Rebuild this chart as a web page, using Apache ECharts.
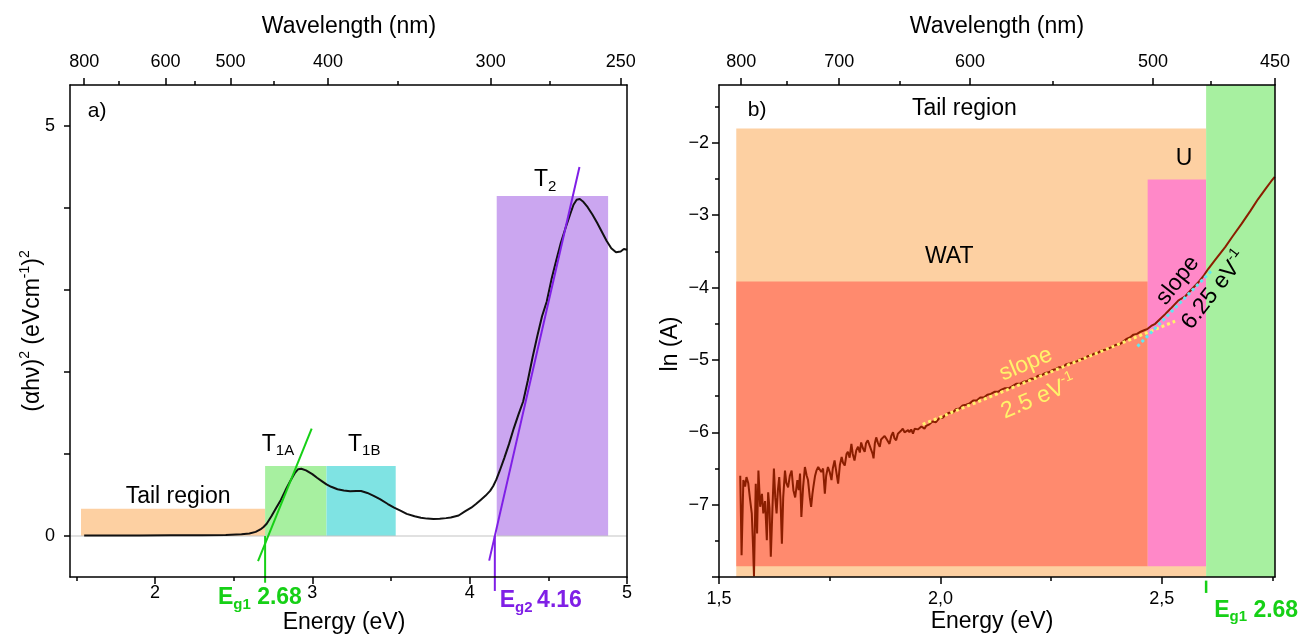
<!DOCTYPE html>
<html><head><meta charset="utf-8">
<script src="https://cdn.jsdelivr.net/npm/echarts@6/dist/echarts.min.js"></script>
<style>html,body{margin:0;padding:0;background:#fff}#c{width:1300px;height:635px}</style>
</head><body><div id="c"></div>
<script>
const FONT = '"Liberation Sans", Arial, Helvetica, sans-serif';
const HC = 1240; // eV·nm

// ---------------- panel a) data ----------------
const aEnergy = [1.55,1.7,1.9,2.1,2.3,2.45,2.55,2.6,2.64,2.67,
  2.69,2.71,2.74,2.77,2.8,2.83,2.86,2.89,2.91,2.93,
  2.96,3.0,3.03,3.06,3.09,3.12,3.16,3.2,3.24,3.28,
  3.31,3.35,3.39,3.43,3.48,3.52,3.56,3.6,3.65,3.69,
  3.73,3.77,3.81,3.85,3.88,3.93,3.97,4.01,4.04,4.07,
  4.1,4.13,4.15,4.17,4.19,4.22,4.25,4.28,4.31,4.34,
  4.37,4.4,4.43,4.46,4.49,4.52,4.55,4.58,4.61,4.64,
  4.66,4.68,4.7,4.72,4.75,4.78,4.81,4.84,4.87,4.9,
  4.93,4.96,4.98,5.0];
const aAbs = [0.005,0.005,0.005,0.008,0.01,0.012,0.02,0.03,0.05,0.08,
  0.11,0.15,0.24,0.34,0.44,0.56,0.67,0.77,0.815,0.82,
  0.80,0.755,0.71,0.67,0.63,0.60,0.57,0.555,0.545,0.55,
  0.548,0.525,0.49,0.45,0.39,0.345,0.31,0.27,0.24,0.223,
  0.212,0.207,0.21,0.218,0.225,0.25,0.30,0.345,0.39,0.44,
  0.49,0.55,0.61,0.69,0.79,0.95,1.12,1.31,1.48,1.64,
  1.90,2.18,2.44,2.68,2.86,3.13,3.36,3.58,3.76,3.93,
  4.04,4.10,4.11,4.08,4.01,3.92,3.82,3.71,3.60,3.51,
  3.46,3.47,3.50,3.49];
// regions: Tail, T1A, T1B, T2
const aRegionX0 = [1.53, 2.70, 3.09, 4.172];
const aRegionX1 = [2.70, 3.09, 3.53, 4.88];
const aRegionY0 = [0, 0, 0, 0];
const aRegionY1 = [0.333, 0.854, 0.854, 4.146];
const aTangentEg1 = [[2.655, -0.305], [2.996, 1.309]];
const aTangentEg2 = [[4.124, -0.30], [4.698, 4.50]];
const aEg1 = 2.70, aEg1Low = -0.57;
const aEg2 = 4.16, aEg2Low = -0.67;
const aXRange = [1.46, 5];
const aYRange = [-0.5, 5.5];
const aBottomMajor = [2, 3, 4, 5];
const aBottomMinor = [1.5, 2.5, 3.5, 4.5];
const aLeftTicks = [0, 1, 2, 3, 4, 5];
const aLeftLabels = [0, 5];
const aTopMajorNm = [800, 600, 500, 400, 300, 250];
const aTopMinorNm = [700, 550, 450, 350, 275];

// ---------------- panel b) data ----------------
const bEnergy = [1.548,1.551,1.555,1.559,1.562,1.566,1.570,1.574,1.577,1.579,
  1.581,1.583,1.586,1.589,1.593,1.597,1.600,1.604,1.608,1.611,
  1.614,1.617,1.621,1.624,1.627,1.630,1.633,1.636,1.639,1.642,
  1.645,1.649,1.652,1.656,1.660,1.664,1.668,1.672,1.677,1.680,
  1.683,1.686,1.690,1.694,1.698,1.701,1.705,1.708,1.711,1.713,
  1.717,1.720,1.724,1.728,1.731,1.735,1.739,1.742,1.746,1.750,
  1.754,1.757,1.761,1.765,1.769,1.773,1.777,1.780,1.784,1.788,
  1.791,1.795,1.799,1.802,1.806,1.810,1.814,1.818,1.821,1.825,
  1.829,1.832,1.836,1.840,1.844,1.847,1.849,1.852,1.855,1.859,
  1.863,1.866,1.870,1.874,1.878,1.881,1.885,1.889,1.893,1.896,
  1.900,1.904,1.908,1.911,1.915,1.919,1.923,1.927,1.930,1.934,
  1.938,1.942,1.945,1.949,1.953,1.957,1.960,1.964,1.968,1.975,
  1.982,1.990,1.998,2.005,2.013,2.020,2.028,2.035,2.043,2.050,
  2.058,2.066,2.074,2.082,2.090,2.098,2.106,2.114,2.122,2.130,
  2.138,2.146,2.155,2.163,2.171,2.180,2.188,2.196,2.204,2.212,
  2.220,2.229,2.237,2.245,2.253,2.260,2.268,2.276,2.284,2.292,
  2.300,2.308,2.316,2.324,2.332,2.340,2.348,2.356,2.364,2.372,
  2.380,2.388,2.396,2.404,2.412,2.420,2.428,2.436,2.444,2.452,
  2.460,2.468,2.476,2.485,2.495,2.507,2.520,2.537,2.553,2.568,
  2.582,2.595,2.605,2.620,2.643,2.660,2.680,2.700,2.717,2.735,
  2.747,2.755];
const bLnA = [-6.60,-7.70,-6.66,-6.75,-6.62,-6.70,-6.92,-7.12,-7.60,-7.99,
  -7.30,-6.71,-7.40,-6.53,-7.03,-6.85,-7.12,-6.95,-7.49,-6.83,
  -7.05,-7.72,-7.00,-6.50,-6.90,-7.12,-6.80,-6.62,-6.95,-7.54,
  -6.90,-6.53,-6.70,-6.76,-6.60,-6.53,-6.80,-6.90,-6.66,-6.80,
  -6.57,-7.17,-6.75,-6.48,-6.60,-6.66,-6.90,-7.03,-6.85,-6.76,
  -6.60,-6.53,-6.48,-6.46,-6.55,-6.50,-6.85,-6.60,-6.48,-6.55,
  -6.66,-6.50,-6.39,-6.55,-6.71,-6.45,-6.34,-6.42,-6.46,-6.30,
  -6.27,-6.35,-6.16,-6.30,-6.39,-6.25,-6.20,-6.28,-6.14,-6.22,
  -6.27,-6.15,-6.11,-6.18,-6.20,-6.30,-6.36,-6.15,-6.07,-6.15,
  -6.20,-6.10,-6.11,-6.05,-6.09,-6.12,-6.16,-6.05,-6.00,-6.08,
  -6.11,-6.02,-6.04,-5.98,-5.95,-6.00,-6.02,-5.97,-6.00,-5.96,
  -6.02,-5.95,-5.93,-5.96,-5.97,-5.92,-5.93,-5.95,-5.91,-5.89,
  -5.85,-5.86,-5.80,-5.80,-5.75,-5.73,-5.73,-5.68,-5.67,-5.63,
  -5.62,-5.60,-5.56,-5.56,-5.52,-5.52,-5.48,-5.47,-5.44,-5.44,
  -5.41,-5.39,-5.39,-5.36,-5.33,-5.33,-5.30,-5.29,-5.26,-5.26,
  -5.22,-5.21,-5.18,-5.17,-5.14,-5.13,-5.10,-5.10,-5.06,-5.05,
  -5.03,-5.02,-4.99,-4.98,-4.95,-4.94,-4.91,-4.90,-4.87,-4.86,
  -4.84,-4.82,-4.79,-4.79,-4.75,-4.71,-4.69,-4.65,-4.64,-4.61,
  -4.59,-4.57,-4.53,-4.50,-4.44,-4.37,-4.29,-4.18,-4.12,-4.02,
  -3.93,-3.83,-3.74,-3.62,-3.44,-3.29,-3.12,-2.94,-2.78,-2.63,
  -2.53,-2.47];
// regions: Tail, WAT, U, Eg
const bRegionX0 = [1.539, 1.539, 2.468, 2.600];
const bRegionX1 = [2.600, 2.468, 2.600, 1240 / 450];
const bRegionY0 = [-8, -7.852, -7.852, -8];
const bRegionY1 = [-1.8, -3.916, -2.507, -1.2];
const bFitWAT = [[1.96, -5.89], [2.53, -4.465]];   // slope 2.5 eV^-1
const bFitU = [[2.445, -4.812], [2.612, -3.768]];  // slope 6.25 eV^-1
const bEg1 = 2.600;
const bXRange = [1.5, 1240 / 450];
const bYRange = [-8, -1.2];
const bBottomMajor = [1.5, 2.0, 2.5];
const bBottomMinor = [1.75, 2.25, 2.75];
const bLeftMajor = [-8, -7, -6, -5, -4, -3, -2];
const bLeftLabels = [-7, -6, -5, -4, -3, -2];
const bLeftMinor = [-7.5, -6.5, -5.5, -4.5, -3.5, -2.5, -1.5];
const bTopMajorNm = [800, 700, 600, 500, 450];
const bTopMinorNm = [750, 650, 550, 475];

// ---------------- styles ----------------
const aRegionColors = ['#fdd0a2', '#a7f0a0', '#7fe3e3', '#cba6f0'];
const bRegionColors = ['#fdd0a2', '#ff8a6e', '#ff88c8', '#a7f0a0'];
const GREEN = '#16d016', PURPLE = '#7f1fe6';
const YELLOW = '#fff36a', CYAN = '#5ee8f2';
const TS = 23; // text size

const chart = echarts.init(document.getElementById('c'), null, {renderer: 'canvas'});

const fmtPlain = v => String(v);
const fmtComma = v => v.toFixed(1).replace('.', ',');
const fmtMinus = v => String(v).replace('-', '\u2212');
const fmtNm = v => String(Math.round(HC / v));
const toE = arr => arr.map(n => HC / n);

function ax(gridIndex, position, range, ticks, labels, len, fmt, margin, line) {
  return {
    type: 'value', gridIndex, position, min: range[0], max: range[1], z: 10,
    axisLine: {show: !!line, onZero: false, lineStyle: {color: '#000', width: 1.5}},
    axisTick: {show: ticks.length > 0, customValues: ticks, length: len, inside: false,
      lineStyle: {color: '#000', width: 1.5}},
    axisLabel: {show: labels.length > 0, customValues: labels, formatter: fmt, margin,
      fontSize: 18, color: '#000', fontFamily: FONT},
    splitLine: {show: false}, minorTick: {show: false}
  };
}

function rectSeries(xi, yi, x0, x1, y0, y1, colors) {
  return {
    type: 'custom', xAxisIndex: xi, yAxisIndex: yi, z: 1, silent: true,
    encode: {x: [0, 1], y: [2, 3]},
    data: x0.map((v, i) => [v, x1[i], y0[i], y1[i]]),
    renderItem: (params, api) => {
      const p0 = api.coord([api.value(0), api.value(3)]);
      const p1 = api.coord([api.value(1), api.value(2)]);
      return {type: 'rect', shape: {x: p0[0], y: p0[1], width: p1[0] - p0[0], height: p1[1] - p0[1]},
        style: {fill: colors[params.dataIndex]}};
    }
  };
}
function lineSeries(xi, yi, data, color, width, z, extra) {
  return Object.assign({type: 'line', xAxisIndex: xi, yAxisIndex: yi, data, showSymbol: false, symbol: 'none',
    silent: true, z, lineStyle: {color, width}}, extra || {});
}

const series = [
  rectSeries(0, 0, aRegionX0, aRegionX1, aRegionY0, aRegionY1, aRegionColors),               // 0
  lineSeries(0, 0, [[aXRange[0], 0], [aXRange[1], 0]], '#c4c4c4', 1.2, 2),                  // 1
  lineSeries(0, 0, aEnergy.map((e, i) => [e, aAbs[i]]), '#111', 2, 3),                       // 2
  lineSeries(0, 0, aTangentEg1, GREEN, 2, 4),                                                // 3
  lineSeries(0, 0, aTangentEg2, PURPLE, 2, 4),                                               // 4
  lineSeries(0, 0, [[aEg1, 0], [aEg1, aEg1Low]], GREEN, 2, 4, {clip: false}),                // 5
  lineSeries(0, 0, [[aEg2, 0], [aEg2, aEg2Low]], PURPLE, 2, 4, {clip: false}),               // 6
  rectSeries(4, 2, bRegionX0, bRegionX1, bRegionY0, bRegionY1, bRegionColors),               // 7
  lineSeries(4, 2, bEnergy.map((e, i) => [e, bLnA[i]]), '#8b1e00', 2, 3),                    // 8
  lineSeries(4, 2, bFitWAT, YELLOW, 3, 4, {lineStyle: {color: YELLOW, width: 3, type: [3, 3]}}), // 9
  lineSeries(4, 2, bFitU, CYAN, 3, 4, {lineStyle: {color: CYAN, width: 3, type: [3, 3]}}),       // 10
  lineSeries(4, 2, [[bEg1, -8.05], [bEg1, -8.22]], GREEN, 2.5, 4, {clip: false})            // 11
];

const option = {
  animation: false,
  backgroundColor: '#fff',
  textStyle: {fontFamily: FONT},
  grid: [
    {left: 70, right: 673, top: 85, bottom: 58, containLabel: false},
    {left: 719, right: 25, top: 85, bottom: 58, containLabel: false}
  ],
  xAxis: [
    ax(0, 'bottom', aXRange, aBottomMajor, aBottomMajor, 7, fmtPlain, 7, true),
    ax(0, 'bottom', aXRange, aBottomMinor, [], 4, null, 0, false),
    ax(0, 'top', aXRange, toE(aTopMajorNm), toE(aTopMajorNm), 7, fmtNm, 14, true),
    ax(0, 'top', aXRange, toE(aTopMinorNm), [], 4, null, 0, false),
    ax(1, 'bottom', bXRange, bBottomMajor, bBottomMajor, 7, fmtComma, 13, true),
    ax(1, 'bottom', bXRange, bBottomMinor, [], 4, null, 0, false),
    ax(1, 'top', bXRange, toE(bTopMajorNm), toE(bTopMajorNm), 7, fmtNm, 14, true),
    ax(1, 'top', bXRange, toE(bTopMinorNm), [], 4, null, 0, false)
  ],
  yAxis: [
    ax(0, 'left', aYRange, aLeftTicks, aLeftLabels, 6, fmtPlain, 15, true),
    ax(0, 'right', aYRange, [], [], 0, null, 0, true),
    ax(1, 'left', bYRange, bLeftMajor, bLeftLabels, 7, fmtMinus, 10, true),
    ax(1, 'left', bYRange, bLeftMinor, [], 4, null, 0, false),
    ax(1, 'right', bYRange, [], [], 0, null, 0, true)
  ],
  visualMap: [
    {type: 'piecewise', show: false, seriesIndex: 2, dimension: 0, pieces: [
      {lt: aRegionX1[0], color: '#3a2510'},
      {gte: aRegionX0[1], lt: aRegionX1[1], color: '#0e3a0e'},
      {gte: aRegionX0[2], lt: aRegionX1[2], color: '#124a4a'},
      {gte: aRegionX1[2], lt: aRegionX0[3], color: '#111111'},
      {gte: aRegionX0[3], lt: aRegionX1[3], color: '#2a1150'},
      {gte: aRegionX1[3], color: '#111111'}]},
    {type: 'piecewise', show: false, seriesIndex: 8, dimension: 0, pieces: [
      {lt: bRegionX0[2], color: '#8b1e00'},
      {gte: bRegionX0[2], lt: bRegionX0[3], color: '#7a1e5e'},
      {gte: bRegionX0[3], color: '#115a11'}]}
  ],
  series
};
chart.setOption(option);

// ---------------- annotations ----------------
function rich(color, weight) {
  const base = {fill: color, fontFamily: FONT, fontWeight: weight || 'normal'};
  return {
    m: Object.assign({fontSize: TS, lineHeight: 29}, base),
    s: Object.assign({fontSize: 15, lineHeight: 15, verticalAlign: 'bottom'}, base),
    p: Object.assign({fontSize: 14, lineHeight: 14, verticalAlign: 'top'}, base)
  };
}
function txt(x, y, text, o) {
  o = o || {};
  const color = o.color || '#000';
  return {type: 'text', x, y, rotation: o.rot || 0, z: 100, silent: true,
    style: {text, fontSize: o.size || TS, fontFamily: FONT, fontWeight: o.weight || 'normal', fill: color,
      align: 'center', verticalAlign: 'middle', textAlign: 'center', textVerticalAlign: 'middle',
      rich: rich(color, o.weight)}};
}
const deg = d => d * Math.PI / 180;
const pA = (e, v) => chart.convertToPixel({xAxisIndex: 0, yAxisIndex: 0}, [e, v]);
const pB = (e, v) => chart.convertToPixel({xAxisIndex: 4, yAxisIndex: 2}, [e, v]);

const annotations = [
  // panel a
  [pA(1.632, 5.18), 'a)', {size: 21}],
  [pA(2.147, 0.476), 'Tail region'],
  [pA(2.782, 1.12), '{m|T}{s|1A}'],
  [pA(3.33, 1.12), '{m|T}{s|1B}'],
  [pA(4.48, 4.34), '{m|T}{s|2}'],
  [pA(2.667, -0.752), '{m|E}{s|g1}{m| 2.68}', {color: GREEN, weight: 'bold'}],
  [pA(4.452, -0.79), '{m|E}{s|g2}{m|\u20094.16}', {color: PURPLE, weight: 'bold'}],
  // panel b
  [pB(1.586, -1.554), 'b)', {size: 21}],
  [pB(2.054, -1.527), 'Tail region'],
  [pB(2.020, -3.57), 'WAT'],
  [pB(2.55, -2.214), 'U'],
  [pB(2.193, -5.06), 'slope', {color: YELLOW, rot: deg(23)}],
  [pB(2.222, -5.52), '{m|2.5 eV}{p|-1}', {color: YELLOW, rot: deg(23)}],
  [pB(2.536, -3.90), 'slope', {rot: deg(52)}],
  [pB(2.619, -4.04), '{m|6.25 eV}{p|-1}', {rot: deg(52)}],
  [pB(2.713, -8.46), '{m|E}{s|g1}{m| 2.68}', {color: GREEN, weight: 'bold'}]
];
const graphics = annotations.map(a => txt(a[0][0], a[0][1], a[1], a[2]));
// axis titles
graphics.push(txt(349, 27, 'Wavelength (nm)'));
graphics.push(txt(997, 27, 'Wavelength (nm)'));
graphics.push(txt(344, 623, 'Energy (eV)'));
graphics.push(txt(992, 622, 'Energy (eV)'));
graphics.push(txt(33, 331, '{m|(\u03b1h\u03bd)}{p|2}{m| (eVcm}{p|-1}{m|)}{p|2}', {rot: deg(90)}));
graphics.push(txt(671, 344, 'ln (A)', {rot: deg(90)}));
chart.setOption({graphic: graphics});
</script></body></html>
